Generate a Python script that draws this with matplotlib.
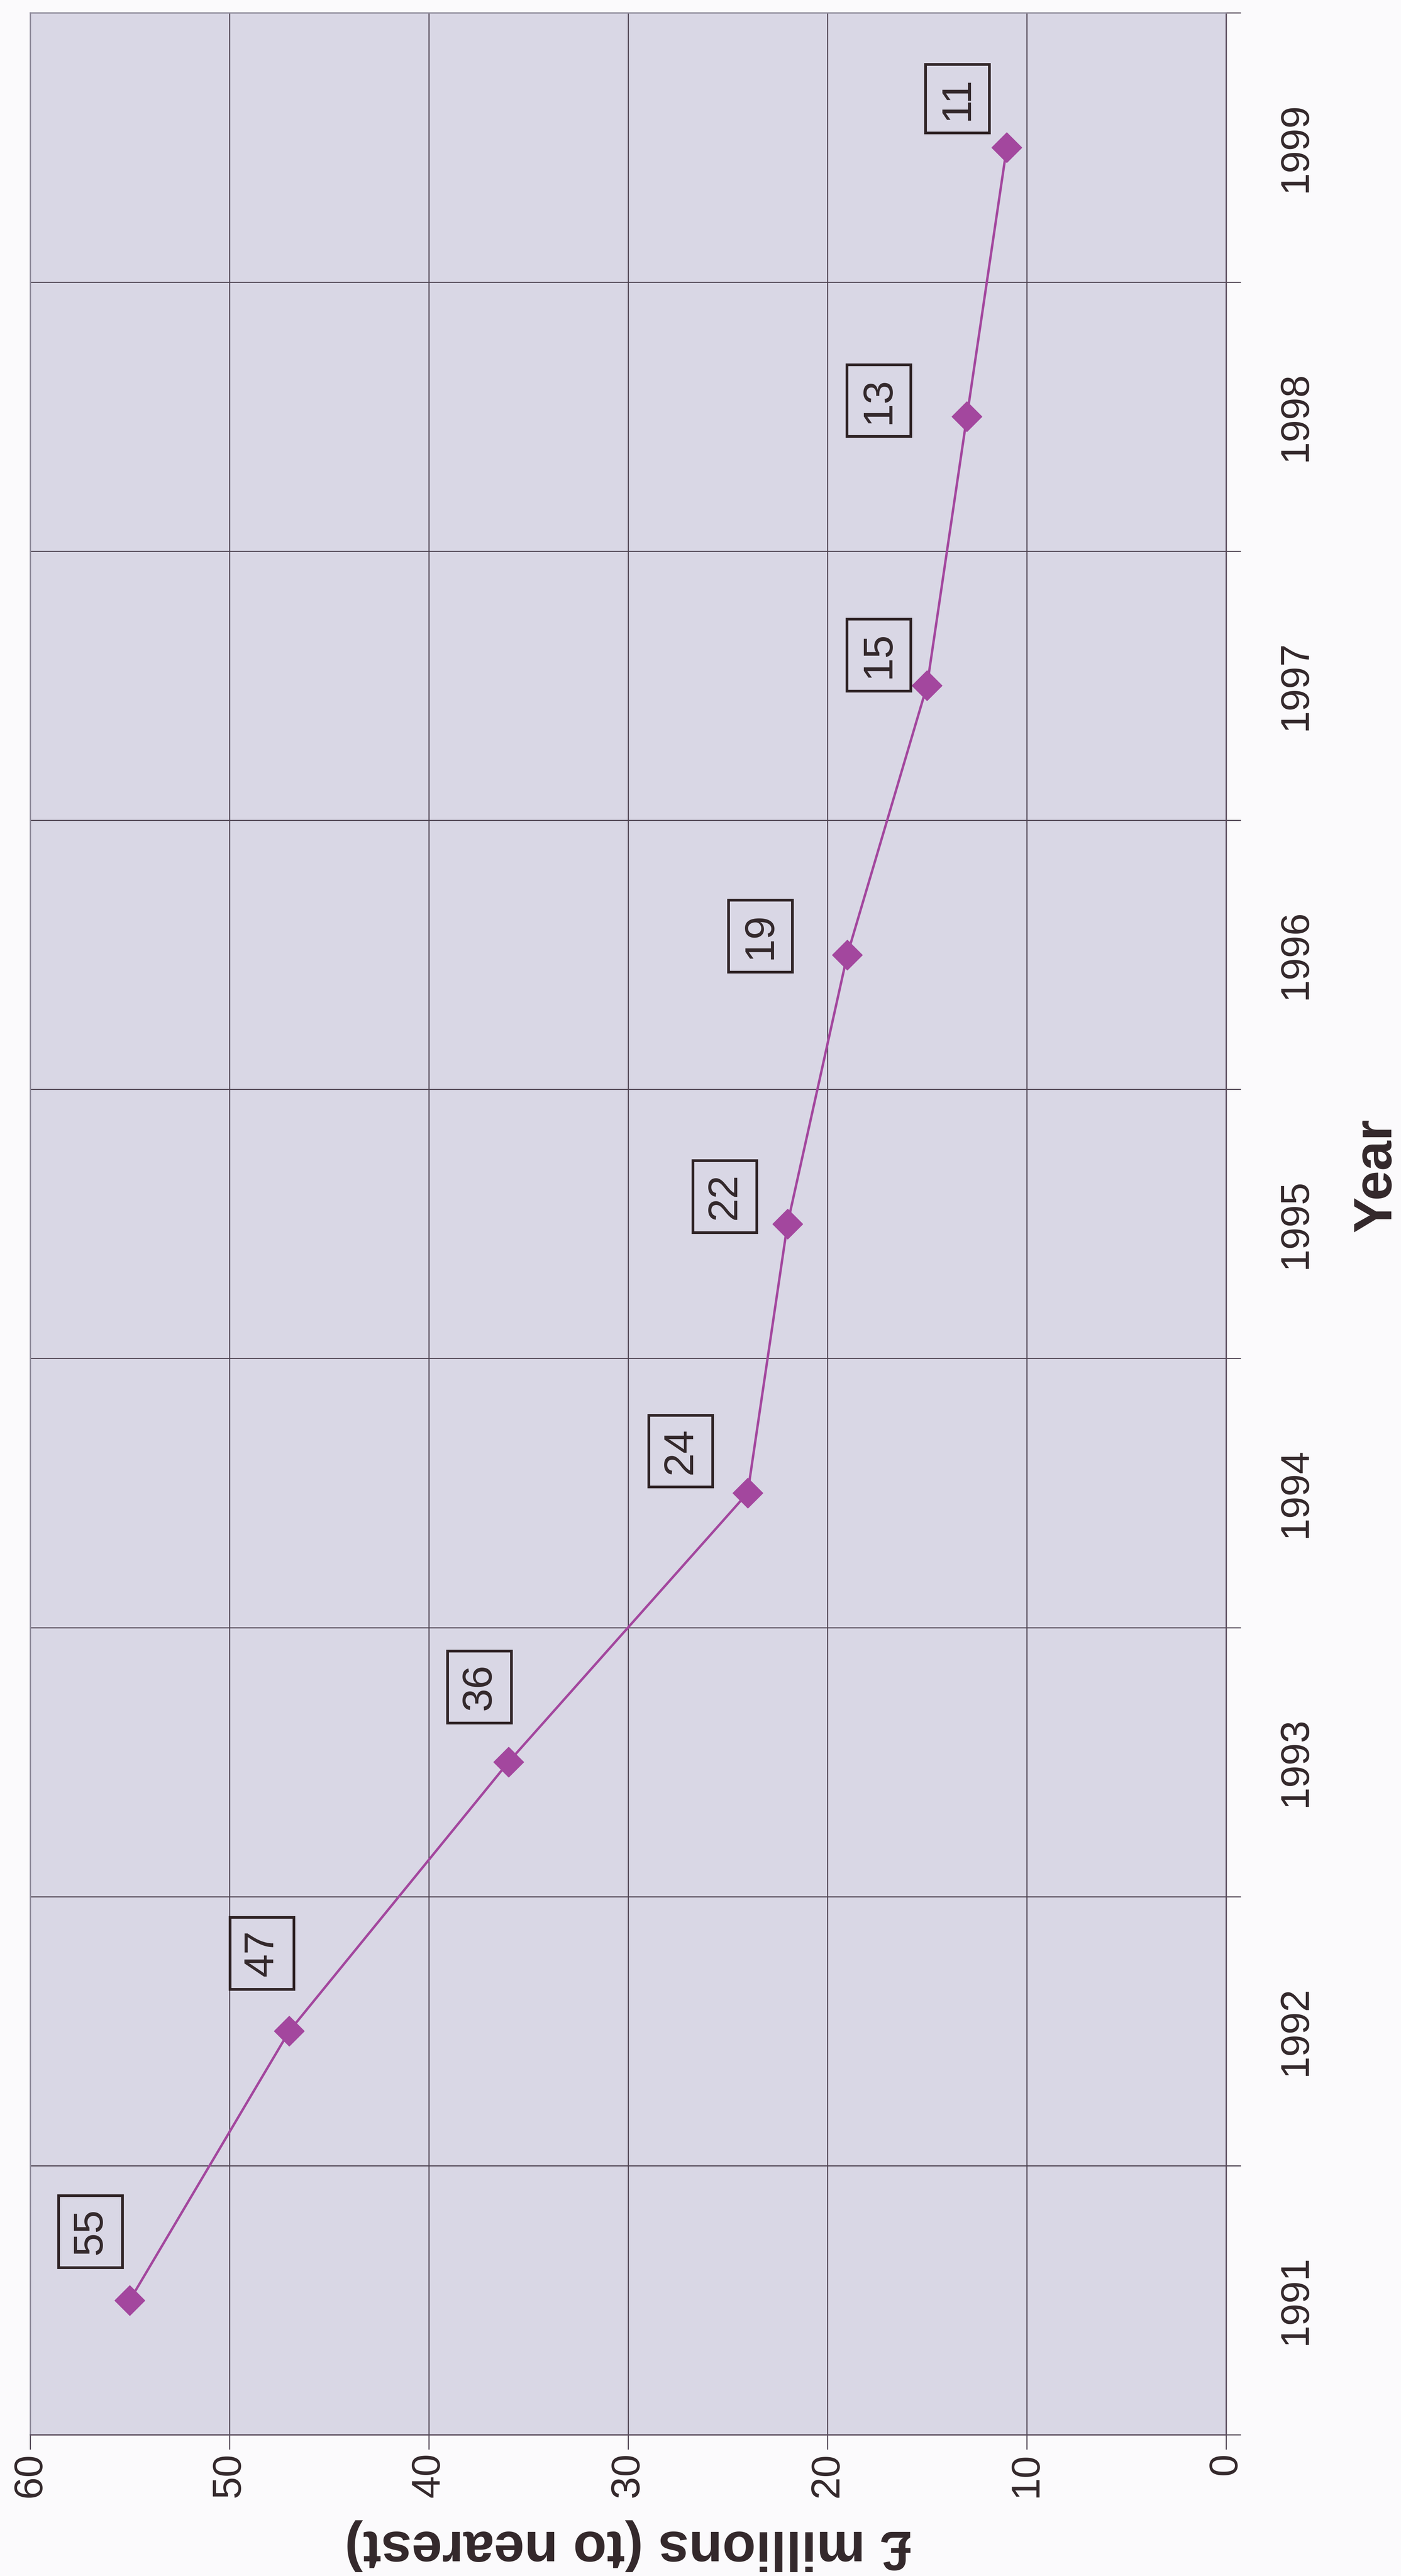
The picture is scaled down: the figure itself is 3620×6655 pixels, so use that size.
import matplotlib
matplotlib.use("Agg")
import matplotlib.pyplot as plt
from matplotlib.ticker import FixedLocator

plt.rcParams['font.family'] = ['Liberation Sans', 'DejaVu Sans']

years = ['1991', '1992', '1993', '1994', '1995', '1996', '1997', '1998', '1999']
values = [55, 47, 36, 24, 22, 19, 15, 13, 11]
value_ticks = [0, 10, 20, 30, 40, 50, 60]

# label box offsets from each point, in points (chart is drawn turned a quarter turn)
label_offsets = [(-73, 128), (-51, 145), (-54, 140), (-125, 78), (-117, 51),
                 (-162, 35), (-90, 57), (-164, 30), (-92, 91)]

text_col = '#33282b'
grid_col = '#4f4452'
line_col = '#a3479e'

fig = plt.figure(figsize=(36.2, 66.55), dpi=100, facecolor='#fbfafc')
ax = fig.add_axes([0.0215, 0.0548, 0.8536, 0.9402])
ax.set_facecolor('#d9d7e5')

pos = list(range(len(years)))
ax.plot(values, pos, color=line_col, lw=4.5, marker='D', ms=40,
        mec=line_col, mfc=line_col, zorder=3)

for v, p, (dx, dy) in zip(values, pos, label_offsets):
    ax.annotate(str(v), xy=(v, p), xytext=(dx, dy), textcoords='offset points',
                rotation=90, ha='center', va='center', fontsize=78, color=text_col,
                bbox=dict(boxstyle='square,pad=0.3', fc='none', ec='#2e2224', lw=5),
                zorder=4)

# value axis along the bottom, running 60 -> 0
ax.set_xlim(60, 0)
ax.set_xticks(value_ticks)
ax.set_xticklabels([str(t) for t in value_ticks], rotation=90, fontsize=75, color=text_col)
ax.tick_params(axis='x', direction='out', length=27, width=2, color=grid_col, pad=6)
ax.xaxis.grid(True, color=grid_col, lw=2)

# year axis on the right, ticks between categories
ax.set_ylim(-0.5, len(years) - 0.5)
ax.yaxis.tick_right()
ax.set_yticks(pos)
ax.set_yticklabels(years, rotation=90, va='center', fontsize=75, color=text_col)
ax.yaxis.set_minor_locator(FixedLocator([p - 0.5 for p in range(len(years) + 1)]))
ax.tick_params(axis='y', which='major', length=0, pad=95)
ax.tick_params(axis='y', which='minor', direction='out', length=27, width=2,
               color=grid_col, right=True, left=False)
ax.yaxis.grid(True, which='minor', color=grid_col, lw=2)
ax.set_axisbelow(True)

for side in ['right', 'bottom']:
    ax.spines[side].set_color('#5a4c5c')
    ax.spines[side].set_linewidth(2.5)
for side in ['left', 'top']:
    ax.spines[side].set_color('#8c8898')
    ax.spines[side].set_linewidth(2.5)

ax.set_xlabel('£ millions (to nearest)', fontsize=102, fontweight='bold',
              color=text_col, rotation=180, ha='center', va='center')
ax.xaxis.set_label_coords(0.5, -0.0457)
ax.yaxis.set_label_position('right')
ax.set_ylabel('Year', fontsize=100, fontweight='bold', color=text_col,
              rotation=90, ha='center', va='center')
ax.yaxis.set_label_coords(1.126, 0.52)

fig.savefig('out.png', dpi=100, facecolor=fig.get_facecolor())
